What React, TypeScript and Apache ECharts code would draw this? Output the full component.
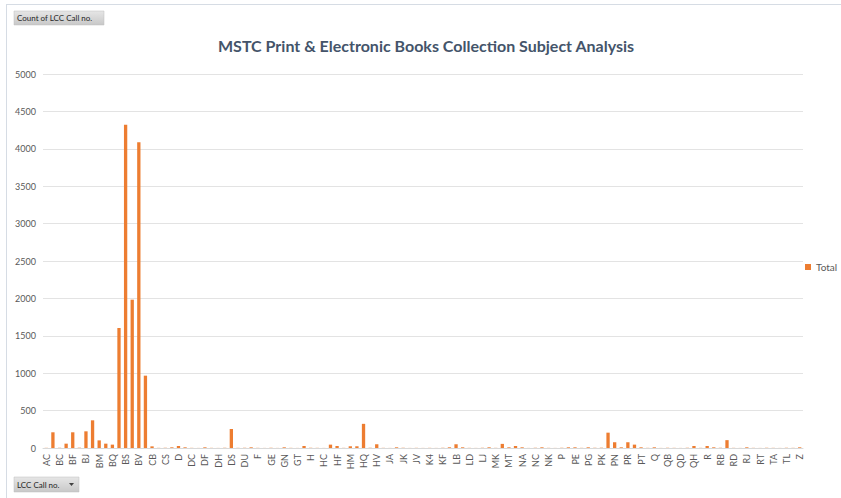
import React, { useEffect, useRef } from "react";
import * as echarts from "echarts";

const categories: string[] = [
  "AC", "B", "BC", "BD", "BF", "BH", "BJ", "BL", "BM", "BP",
  "BQ", "BR", "BS", "BT", "BV", "BX", "CB", "CC", "CS", "CT",
  "D", "DA", "DC", "DD", "DF", "DG", "DH", "DK", "DS", "DT",
  "DU", "E", "F", "G", "GE", "GF", "GN", "GR", "GT", "GV",
  "H", "HB", "HC", "HD", "HF", "HG", "HM", "HN", "HQ", "HT",
  "HV", "HX", "JA", "JC", "JK", "JQ", "JV", "K", "K4", "KB",
  "KF", "L", "LB", "LC", "LD", "LG", "LJ", "M", "MK", "ML",
  "MT", "N", "NA", "NB", "NC", "ND", "NK", "NX", "P", "PA",
  "PE", "PF", "PG", "PJ", "PK", "PL", "PN", "PQ", "PR", "PS",
  "PT", "PZ", "Q", "QA", "QB", "QC", "QD", "QE", "QH", "QP",
  "R", "RA", "RB", "RC", "RD", "RG", "RJ", "RM", "RT", "S",
  "TA", "TC", "TL", "TX", "Z",
];

const totals: number[] = [
  2, 210, 3, 58, 210, 4, 223, 370, 102, 58,
  45, 1604, 4323, 1983, 4086, 967, 22, 2, 3, 9,
  27, 9, 2, 1, 9, 2, 1, 3, 254, 2,
  3, 9, 2, 1, 3, 1, 9, 2, 1, 27,
  3, 2, 1, 45, 27, 2, 23, 23, 323, 3,
  50, 2, 1, 9, 3, 1, 2, 1, 2, 1,
  3, 9, 50, 9, 2, 1, 3, 9, 2, 55,
  9, 27, 9, 1, 3, 9, 2, 1, 3, 9,
  9, 2, 9, 3, 4, 205, 77, 9, 77, 45,
  9, 2, 9, 1, 3, 2, 1, 3, 27, 2,
  27, 9, 3, 105, 2, 1, 9, 2, 1, 3,
  2, 1, 3, 2, 9,
];

const seriesName = "Total";
const chartTitle = "MSTC Print & Electronic Books Collection Subject Analysis";
const valueButton = "Count of LCC Call no.";
const axisButton = "LCC Call no.";

export default function App() {
  const ref = useRef<HTMLDivElement>(null);
  useEffect(() => {
    document.body.style.margin = "0";
    if (!ref.current) return;
    const chart = echarts.init(ref.current, null, { renderer: "svg" });
    const font = "Lato, 'Open Sans', sans-serif";
    const btnFill = new echarts.graphic.LinearGradient(0, 0, 0, 1, [
      { offset: 0, color: "#E6E6E6" },
      { offset: 1, color: "#C8C8C8" },
    ]);
    chart.setOption({
      animation: false,
      backgroundColor: "#ffffff",
      textStyle: { fontFamily: font },
      grid: { left: 43, right: 38, top: 74, bottom: 50, containLabel: false },
      legend: {
        data: [seriesName],
        left: 805,
        top: 262,
        icon: "rect",
        itemWidth: 6,
        itemHeight: 6,
        itemGap: 4,
        textStyle: { fontSize: 10, color: "#595959", fontFamily: font },
        padding: 0,
      },
      xAxis: {
        type: "category",
        data: categories,
        axisTick: { show: false },
        axisLine: { lineStyle: { color: "#D9D9D9" } },
        axisLabel: {
          interval: 1,
          rotate: 90,
          fontSize: 9,
          color: "#595959",
          margin: 6,
          fontFamily: font,
        },
      },
      yAxis: {
        type: "value",
        min: 0,
        max: 5000,
        interval: 500,
        axisLine: { show: false },
        axisTick: { show: false },
        axisLabel: {
          fontSize: 9,
          color: "#595959",
          margin: 7,
          fontFamily: font,
          formatter: (v: number) => String(v),
        },
        splitLine: { lineStyle: { color: "#E3E3E3" } },
      },
      series: [
        {
          name: seriesName,
          type: "bar",
          data: totals,
          barWidth: "50%",
          itemStyle: { color: "#ED7D31" },
        },
      ],
      graphic: [
        {
          type: "line",
          shape: { x1: 6, y1: 4.5, x2: 841, y2: 4.5 },
          style: { stroke: "#D6DCE4", lineWidth: 1 },
          silent: true,
        },
        {
          type: "line",
          shape: { x1: 6.5, y1: 4, x2: 6.5, y2: 498 },
          style: { stroke: "#D6DCE4", lineWidth: 1 },
          silent: true,
        },
        {
          type: "text",
          x: 426,
          y: 45,
          style: {
            text: chartTitle,
            fontSize: 16,
            fontWeight: "bold",
            fill: "#44546A",
            fontFamily: font,
            textAlign: "center",
            textVerticalAlign: "middle",
          },
        },
        {
          type: "rect",
          shape: { x: 14, y: 11, width: 90, height: 14 },
          style: { fill: btnFill, stroke: "#BFBFBF", lineWidth: 0.5 },
        },
        {
          type: "text",
          x: 17,
          y: 18,
          style: {
            text: valueButton,
            fontSize: 8,
            fill: "#262626",
            fontFamily: font,
            textVerticalAlign: "middle",
          },
        },
        {
          type: "rect",
          shape: { x: 14, y: 477, width: 65, height: 15 },
          style: { fill: btnFill, stroke: "#BFBFBF", lineWidth: 0.5 },
        },
        {
          type: "text",
          x: 17,
          y: 484.5,
          style: {
            text: axisButton,
            fontSize: 8,
            fill: "#262626",
            fontFamily: font,
            textVerticalAlign: "middle",
          },
        },
        {
          type: "polygon",
          shape: { points: [[69, 483], [74, 483], [71.5, 486]] },
          style: { fill: "#404040" },
        },
      ],
    });
    return () => chart.dispose();
  }, []);
  return <div ref={ref} style={{ width: 841, height: 498 }} />;
}
